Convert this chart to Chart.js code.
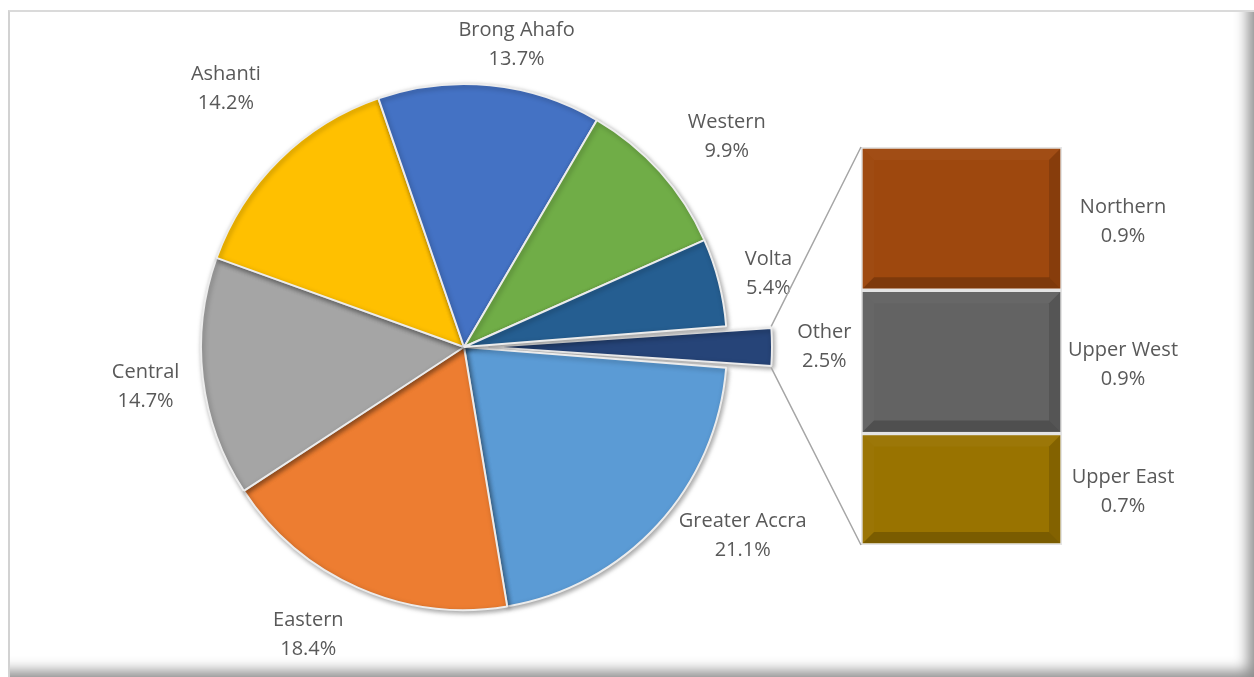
<!DOCTYPE html>
<html>
<head>
<meta charset="utf-8">
<script src="https://cdn.jsdelivr.net/npm/chart.js@4.4.1/dist/chart.umd.min.js"></script>
<style>
  html, body { margin: 0; padding: 0; background: #ffffff; }
  #stage { position: relative; width: 1254px; height: 677px; overflow: hidden; }
  #frame {
    position: absolute; left: 8px; top: 10px; width: 1246px; height: 667px;
    box-sizing: border-box;
    border-top: 2px solid #dadada; border-left: 2px solid #d2d2d2;
    box-shadow: inset -16px -16px 14px -10px rgba(0, 0, 0, 0.45);
  }
  canvas { position: absolute; left: 0; top: 0; }
</style>
</head>
<body>
<div id="stage">
  <div id="frame"></div>
  <canvas id="pie" width="1254" height="677"></canvas>
  <canvas id="bar" width="1254" height="677"></canvas>
</div>
<script>
// Regional shares (%), clockwise starting with the split-off "Other" group
const regions = ['Other', 'Greater Accra', 'Eastern', 'Central', 'Ashanti', 'Brong Ahafo', 'Western', 'Volta'];
const shares  = [2.5, 21.1, 18.4, 14.7, 14.2, 13.7, 9.9, 5.4];
const regionColors = ['#264478', '#5B9BD5', '#ED7D31', '#A5A5A5', '#FFC000', '#4472C4', '#70AD47', '#255E91'];

// Breakdown of the "Other" group, top to bottom
const otherRegions = ['Northern', 'Upper West', 'Upper East'];
const otherShares  = [0.9, 0.9, 0.7];
const otherColors  = ['#9E480E', '#636363', '#997300'];

// Label placement around the pie: [angle nudge in degrees, distance as a multiple of the radius]
const labelPlacement = {
  'Other':         [0.0, 1.37],
  'Greater Accra': [-8.4, 1.28],
  'Eastern':       [4.7, 1.245],
  'Central':       [-0.4, 1.22],
  'Ashanti':       [1.9, 1.335],
  'Brong Ahafo':   [4.2, 1.165],
  'Western':       [3.1, 1.28],
  'Volta':         [0.8, 1.19]
};

const FONT = '20px "Open Sans", "Liberation Sans", sans-serif';
const TEXT = '#595959';
const LINE_GAP = 14.5;
const EXPLODE_PX = 45;   // how far the "Other" slice is pulled out

const total = shares.reduce((a, b) => a + b, 0);
const otherTotal = otherShares.reduce((a, b) => a + b, 0);

// Chart.js moves an arc by offset/4 * (2 - sin(circumference)); invert that
const otherSweep = 2 * Math.PI * shares[0] / total;
const arcShift = (off, sweep) => off / 4 * (2 - Math.sin(Math.min(Math.PI, sweep)));
const otherOffset = EXPLODE_PX / arcShift(1, otherSweep);

function drawTwoLines(ctx, name, value, x, y) {
  ctx.fillText(name, x, y - LINE_GAP);
  ctx.fillText(value.toFixed(1) + '%', x, y + LINE_GAP);
}

// soft drop shadow under the slices
const sliceShadow = {
  id: 'sliceShadow',
  beforeDatasetsDraw(chart) {
    const ctx = chart.ctx;
    ctx.save();
    ctx.shadowColor = 'rgba(0,0,0,0.35)';
    ctx.shadowBlur = 5;
    ctx.shadowOffsetX = 1.5;
    ctx.shadowOffsetY = 2;
  },
  afterDatasetsDraw(chart) {
    chart.ctx.restore();
  }
};

const pieLabels = {
  id: 'pieLabels',
  afterDatasetsDraw(chart) {
    const ctx = chart.ctx;
    const meta = chart.getDatasetMeta(0);
    ctx.save();
    ctx.font = FONT;
    ctx.fillStyle = TEXT;
    ctx.textAlign = 'center';
    ctx.textBaseline = 'middle';
    meta.data.forEach((arc, i) => {
      const p = arc.getProps(['x', 'y', 'startAngle', 'endAngle', 'outerRadius'], true);
      const [dA, k] = labelPlacement[regions[i]];
      const mid = (p.startAngle + p.endAngle) / 2 + dA * Math.PI / 180;
      const cx = p.x + Math.cos(mid) * p.outerRadius * k;
      const cy = p.y + Math.sin(mid) * p.outerRadius * k;
      drawTwoLines(ctx, regions[i], shares[i], cx, cy);
    });
    ctx.restore();
  }
};

const pieChart = new Chart(document.getElementById('pie'), {
  type: 'pie',
  data: {
    labels: regions,
    datasets: [{
      data: shares,
      backgroundColor: regionColors,
      borderColor: '#ececec',
      borderWidth: 2,
      offset: shares.map((v, i) => (i === 0 ? otherOffset : 0)),
      radius: 263
    }]
  },
  options: {
    responsive: false,
    animation: false,
    devicePixelRatio: 1,
    // centre the "Other" group on the 3 o'clock direction
    rotation: 90 - (shares[0] / total) * 180,
    layout: { padding: { left: 0, right: 326, top: 17, bottom: 0 } },
    plugins: { legend: { display: false }, tooltip: { enabled: false } }
  },
  plugins: [sliceShadow, pieLabels]
});

// lines joining the split-off slice to the breakdown column
const connectors = {
  id: 'connectors',
  afterDatasetsDraw(chart) {
    const arc = pieChart.getDatasetMeta(0).data[0];
    const p = arc.getProps(['x', 'y', 'startAngle', 'endAngle', 'outerRadius'], true);
    const mid = (p.startAngle + p.endAngle) / 2;
    const shift = arcShift(arc.options.offset || 0, p.endAngle - p.startAngle);
    const ox = p.x + Math.cos(mid) * shift, oy = p.y + Math.sin(mid) * shift;
    const a1 = [ox + Math.cos(p.startAngle) * p.outerRadius, oy + Math.sin(p.startAngle) * p.outerRadius];
    const a2 = [ox + Math.cos(p.endAngle) * p.outerRadius, oy + Math.sin(p.endAngle) * p.outerRadius];
    const first = chart.getDatasetMeta(0).data[0];
    const last = chart.getDatasetMeta(otherRegions.length - 1).data[0];
    const left = first.x - first.width / 2;
    const top = Math.min(first.y, first.base);
    const bottom = Math.max(last.y, last.base);
    const ctx = chart.ctx;
    ctx.save();
    ctx.strokeStyle = '#a6a6a6';
    ctx.lineWidth = 1.5;
    ctx.beginPath();
    ctx.moveTo(a1[0], a1[1]); ctx.lineTo(left, top);
    ctx.moveTo(a2[0], a2[1]); ctx.lineTo(left, bottom);
    ctx.stroke();
    ctx.restore();
  }
};

// bevelled edges on the column segments
const bevel = {
  id: 'bevel',
  afterDatasetsDraw(chart) {
    const ctx = chart.ctx;
    chart.data.datasets.forEach((ds, i) => {
      const el = chart.getDatasetMeta(i).data[0];
      const l = el.x - el.width / 2 + 2, r = el.x + el.width / 2 - 2;
      const t = Math.min(el.y, el.base) + 2, b = Math.max(el.y, el.base) - 2;
      const e = 11;
      ctx.save();
      const face = (pts, color) => {
        ctx.beginPath();
        ctx.moveTo(pts[0][0], pts[0][1]);
        pts.slice(1).forEach(q => ctx.lineTo(q[0], q[1]));
        ctx.closePath();
        ctx.fillStyle = color;
        ctx.fill();
      };
      face([[l, t], [r, t], [r - e, t + e], [l + e, t + e]], 'rgba(255,255,255,0.03)');
      face([[l, t], [l + e, t + e], [l + e, b - e], [l, b]], 'rgba(255,255,255,0.02)');
      face([[r, t], [r, b], [r - e, b - e], [r - e, t + e]], 'rgba(0,0,0,0.14)');
      face([[l, b], [r, b], [r - e, b - e], [l + e, b - e]], 'rgba(0,0,0,0.2)');
      ctx.restore();
    });
  }
};

const barLabels = {
  id: 'barLabels',
  afterDraw(chart) {
    const ctx = chart.ctx;
    ctx.save();
    ctx.font = FONT;
    ctx.fillStyle = TEXT;
    ctx.textAlign = 'center';
    ctx.textBaseline = 'middle';
    chart.data.datasets.forEach((ds, i) => {
      const el = chart.getDatasetMeta(i).data[0];
      const cx = el.x + el.width / 2 + 61;
      const cy = (el.y + el.base) / 2 + 3;
      drawTwoLines(ctx, otherRegions[i], otherShares[i], cx, cy);
    });
    ctx.restore();
  }
};

new Chart(document.getElementById('bar'), {
  type: 'bar',
  data: {
    labels: ['Other'],
    datasets: otherRegions.map((name, i) => ({
      label: name,
      data: [otherShares[i]],
      backgroundColor: otherColors[i],
      borderColor: '#e4e4e4',
      borderWidth: 2,
      borderSkipped: false,
      categoryPercentage: 1,
      barPercentage: 1
    }))
  },
  options: {
    responsive: false,
    animation: false,
    devicePixelRatio: 1,
    layout: { padding: { left: 861, right: 192, top: 147, bottom: 132 } },
    scales: {
      x: { display: false, stacked: true },
      y: { display: false, stacked: true, reverse: true, min: 0, max: otherTotal }
    },
    plugins: { legend: { display: false }, tooltip: { enabled: false } }
  },
  plugins: [bevel, connectors, barLabels]
});
</script>
</body>
</html>
